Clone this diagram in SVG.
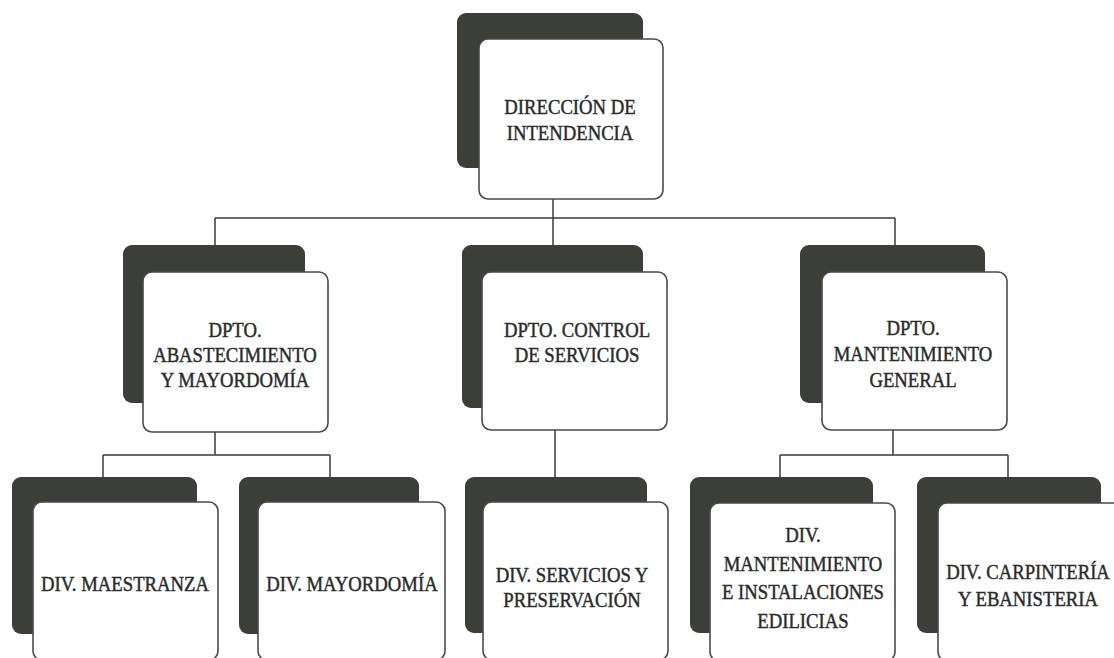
<svg xmlns="http://www.w3.org/2000/svg" width="1114" height="658" viewBox="0 0 1114 658">
<style>
.sh{fill:#3b3e39;}
.bx{fill:#ffffff;stroke:#4a4a4a;stroke-width:1.6;}
.ln{stroke:#3a3a3a;stroke-width:1.5;fill:none;}
.t{font-family:"Liberation Serif","Times New Roman",serif;font-size:22px;fill:#2a2a2a;stroke:#2a2a2a;stroke-width:0.45;text-anchor:middle;}
</style>
<rect width="1114" height="658" fill="#ffffff"/>
<g id="connectors">
<path class="ln" d="M553 199 V218 M215 218 H895 M215 218 V245 M553 218 V245 M895 218 V245"/>
<path class="ln" d="M215 432 V455 M103 455 H330 M103 455 V477 M330 455 V477"/>
<path class="ln" d="M555 430 V477"/>
<path class="ln" d="M893 430 V455 M780 455 H1008 M780 455 V477 M1008 455 V477"/>
</g>
<g id="n-direccion">
<rect class="sh" x="457" y="13" width="186" height="155" rx="9"/>
<rect class="bx" x="479" y="39" width="184" height="160" rx="9"/>
<text class="t" transform="translate(570,114) scale(0.85,1)">DIRECCIÓN DE</text>
<text class="t" transform="translate(570,140) scale(0.85,1)">INTENDENCIA</text>
</g>
<g id="n-abastecimiento">
<rect class="sh" x="123" y="245" width="182" height="158" rx="9"/>
<rect class="bx" x="143" y="272" width="185" height="160" rx="9"/>
<text class="t" transform="translate(235,337) scale(0.85,1)">DPTO.</text>
<text class="t" transform="translate(235,362) scale(0.85,1)">ABASTECIMIENTO</text>
<text class="t" transform="translate(235,387) scale(0.85,1)">Y MAYORDOMÍA</text>
</g>
<g id="n-control">
<rect class="sh" x="462" y="245" width="181" height="163" rx="9"/>
<rect class="bx" x="482" y="272" width="185" height="158" rx="9"/>
<text class="t" transform="translate(577,337) scale(0.85,1)">DPTO. CONTROL</text>
<text class="t" transform="translate(577,362) scale(0.85,1)">DE SERVICIOS</text>
</g>
<g id="n-mantenimiento">
<rect class="sh" x="800" y="245" width="185" height="158" rx="9"/>
<rect class="bx" x="822" y="272" width="185" height="158" rx="9"/>
<text class="t" transform="translate(913,335) scale(0.85,1)">DPTO.</text>
<text class="t" transform="translate(913,361) scale(0.85,1)">MANTENIMIENTO</text>
<text class="t" transform="translate(913,387) scale(0.85,1)">GENERAL</text>
</g>
<g id="n-maestranza">
<rect class="sh" x="12" y="477" width="185" height="157" rx="9"/>
<rect class="bx" x="33" y="502" width="185" height="158" rx="9"/>
<text class="t" transform="translate(125,591) scale(0.85,1)">DIV. MAESTRANZA</text>
</g>
<g id="n-mayordomia">
<rect class="sh" x="239" y="477" width="180" height="157" rx="9"/>
<rect class="bx" x="258" y="502" width="187" height="158" rx="9"/>
<text class="t" transform="translate(352,591) scale(0.85,1)">DIV. MAYORDOMÍA</text>
</g>
<g id="n-servicios">
<rect class="sh" x="465" y="477" width="182" height="156" rx="9"/>
<rect class="bx" x="483" y="502" width="185" height="158" rx="9"/>
<text class="t" transform="translate(572,582) scale(0.85,1)">DIV. SERVICIOS Y</text>
<text class="t" transform="translate(572,607) scale(0.85,1)">PRESERVACIÓN</text>
</g>
<g id="n-instalaciones">
<rect class="sh" x="690" y="477" width="183" height="156" rx="9"/>
<rect class="bx" x="710" y="503" width="185" height="158" rx="9"/>
<text class="t" transform="translate(803,542) scale(0.85,1)">DIV.</text>
<text class="t" transform="translate(803,571) scale(0.85,1)">MANTENIMIENTO</text>
<text class="t" transform="translate(803,599) scale(0.85,1)">E INSTALACIONES</text>
<text class="t" transform="translate(803,628) scale(0.85,1)">EDILICIAS</text>
</g>
<g id="n-carpinteria">
<rect class="sh" x="917" y="477" width="184" height="156" rx="9"/>
<rect class="bx" x="938" y="503" width="186" height="158" rx="9"/>
<text class="t" transform="translate(1028,579) scale(0.85,1)">DIV. CARPINTERÍA</text>
<text class="t" transform="translate(1028,606) scale(0.85,1)">Y EBANISTERIA</text>
</g>
</svg>
